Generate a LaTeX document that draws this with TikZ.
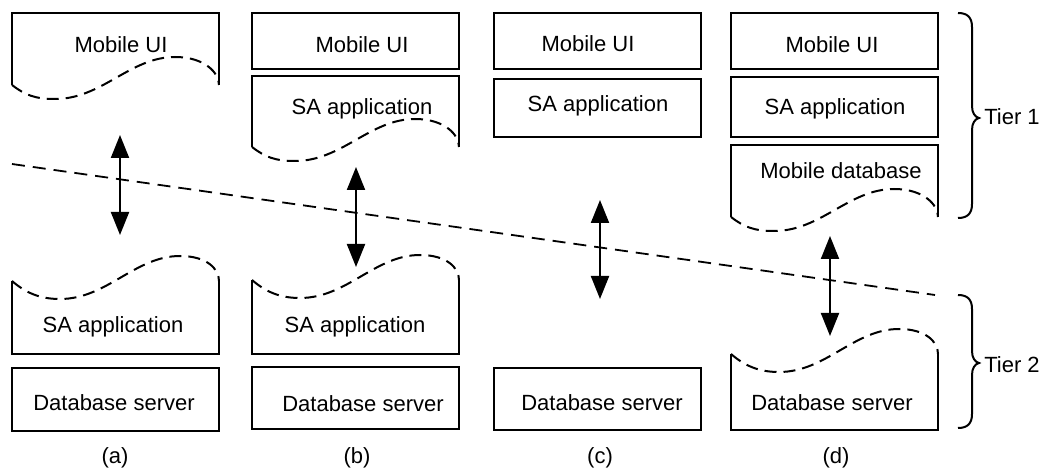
\documentclass[tikz,border=0pt]{standalone}
\usepackage{fontspec}
\setmainfont{Liberation Sans}
\usetikzlibrary{arrows.meta}

% box whose lower edge is a dashed wave: #1 left x, #2 top y, #3 y where the sides end
\newcommand\docfoot[3]{%
  \draw[boxline] (#1,#3) -- (#1,#2) -- ({#1+207},#2) -- ({#1+207},#3);
  \draw[waveline] (#1,#3) .. controls ({#1+13},{#3+10}) and ({#1+23},{#3+14}) .. ({#1+43},{#3+14})
    .. controls ({#1+90},{#3+14}) and ({#1+118},{#3-28}) .. ({#1+163},{#3-28})
    .. controls ({#1+193},{#3-28}) and ({#1+207},{#3-12}) .. ({#1+207},#3);}
% box whose upper edge is a dashed wave: #1 left x, #2 y where the sides end, #3 bottom y
\newcommand\dochead[3]{%
  \draw[boxline] (#1,#2) -- (#1,#3) -- ({#1+207},#3) -- ({#1+207},#2);
  \draw[waveline] (#1,#2) .. controls ({#1+14},{#2+12}) and ({#1+28},{#2+18}) .. ({#1+48},{#2+18})
    .. controls ({#1+95},{#2+18}) and ({#1+123},{#2-25}) .. ({#1+168},{#2-25})
    .. controls ({#1+195},{#2-25}) and ({#1+207},{#2-12}) .. ({#1+207},#2);}
% plain box: #1 left x, #2 top y, #3 bottom y
\newcommand\plainbox[3]{\draw[boxline] (#1,#2) rectangle ({#1+207},#3);}
% curly brace: #1 top y, #2 tip y, #3 bottom y
\newcommand\tierbrace[3]{%
  \draw[boxline] (958,#1) .. controls (967,#1) and (972,{#1+4}) .. (972,{#1+14}) -- (972,{#2-12})
    .. controls (972,{#2-5}) and (975,{#2-1}) .. (979,#2)
    .. controls (975,{#2+1}) and (972,{#2+5}) .. (972,{#2+12}) -- (972,{#3-14})
    .. controls (972,{#3-4}) and (967,#3) .. (958,#3);}

\tikzset{
  boxline/.style={line width=2pt, line join=miter},
  waveline/.style={line width=2pt, dash pattern=on 12pt off 7pt},
  divider/.style={line width=1.8pt, dash pattern=on 13pt off 8pt},
  link/.style={line width=2pt, {Triangle[length=23pt,width=18pt]}-{Triangle[length=23pt,width=18pt]}},
  lbl/.style={anchor=base, inner sep=0pt, font=\fontsize{22}{26}\selectfont}
}

\begin{document}
\begin{tikzpicture}[x=1pt, y=-1pt]
\useasboundingbox (0,0) rectangle (1050,470);

% ---- column (a)
\docfoot{12}{13}{85}
\dochead{12}{281}{354}
\plainbox{12}{368}{431}
\node[lbl] (aUI) at (121,53) {Mobile UI};
\node[lbl] (aSA) at (113,333) {SA application};
\node[lbl] (aDB) at (114,410) {Database server};
\node[lbl] (aCap) at (115,463) {(a)};

% ---- column (b)
\plainbox{252}{13}{69}
\docfoot{252}{76}{147}
\dochead{252}{280}{354}
\plainbox{252}{367}{429}
\node[lbl] (bUI) at (362,53) {Mobile UI};
\node[lbl] (bSAtop) at (362,115) {SA application};
\node[lbl] (bSA) at (355,333) {SA application};
\node[lbl] (bDB) at (363,411) {Database server};
\node[lbl] (bCap) at (357,463) {(b)};

% ---- column (c)
\plainbox{494}{13}{69}
\plainbox{494}{79}{137}
\plainbox{494}{368}{430}
\node[lbl] (cUI) at (588,52) {Mobile UI};
\node[lbl] (cSA) at (598,112) {SA application};
\node[lbl] (cDB) at (602,410) {Database server};
\node[lbl] (cCap) at (600,463) {(c)};

% ---- column (d)
\plainbox{731}{13}{69}
\plainbox{731}{77}{137}
\docfoot{731}{145}{217}
\dochead{731}{354}{430}
\node[lbl] (dUI) at (832,53) {Mobile UI};
\node[lbl] (dSA) at (835,115) {SA application};
\node[lbl] (dMDB) at (841,179) {Mobile database};
\node[lbl] (dDB) at (832,410) {Database server};
\node[lbl] (dCap) at (836,463) {(d)};

% ---- tier boundary
\coordinate (lineL) at (12,164);
\coordinate (lineR) at (935,295);
\draw[divider] (lineL) -- (lineR);

% ---- client/server links
\coordinate (aUp) at (120,135); \coordinate (aDn) at (120,235);
\coordinate (bUp) at (356,167); \coordinate (bDn) at (356,267);
\coordinate (cUp) at (600,200); \coordinate (cDn) at (600,299);
\coordinate (dUp) at (830,236); \coordinate (dDn) at (830,336);
\draw[link] (aUp) -- (aDn);
\draw[link] (bUp) -- (bDn);
\draw[link] (cUp) -- (cDn);
\draw[link] (dUp) -- (dDn);

% ---- tiers
\tierbrace{13}{118}{218}
\tierbrace{295}{363}{428}
\node[lbl] (t1) at (1012,125) {Tier 1};
\node[lbl] (t2) at (1012,373) {Tier 2};
\end{tikzpicture}
\end{document}
